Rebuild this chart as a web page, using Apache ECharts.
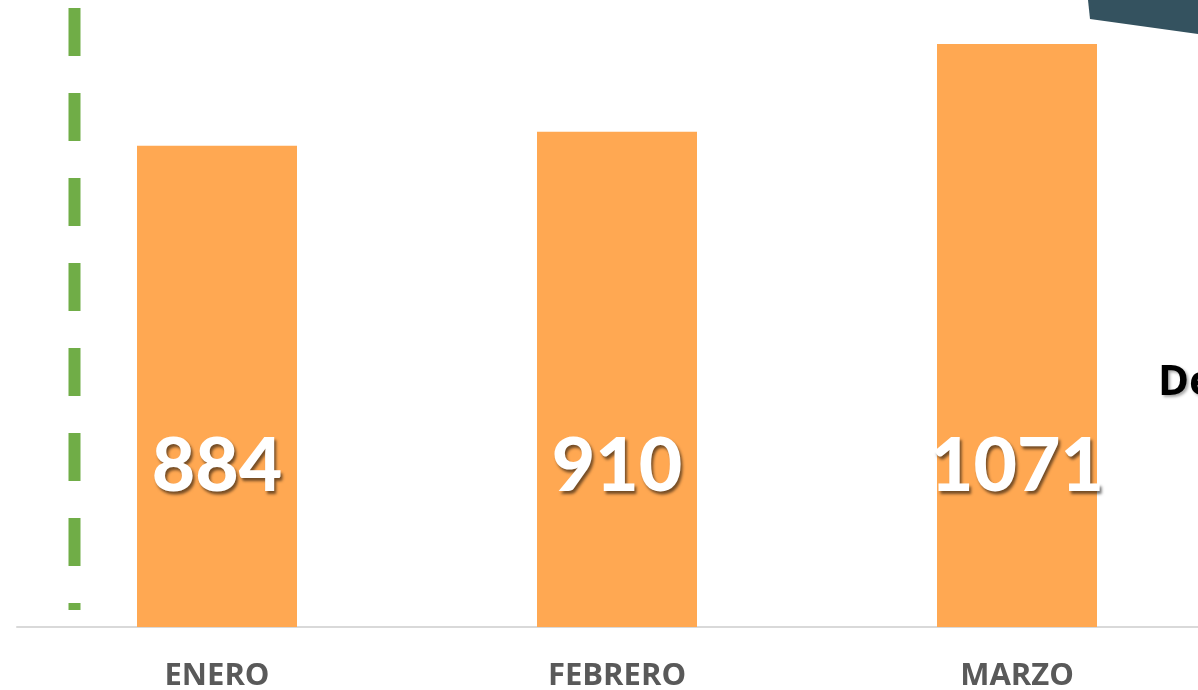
<!DOCTYPE html>
<html><head><meta charset="utf-8">
<style>html,body{margin:0;padding:0;background:#fff;}#c{width:1198px;height:690px;}</style>
<script src="https://cdn.jsdelivr.net/npm/echarts@6/dist/echarts.min.js"></script>
</head><body><div id="c"></div>
<script>
var categories = ['ENERO', 'FEBRERO', 'MARZO'];
var values = [884, 910, 1071];
var sideText = 'De';

var chart = echarts.init(document.getElementById('c'));
chart.setOption({
  animation: false,
  grid: { left: 17, right: -19, top: 1, bottom: 63, outerBoundsMode: 'none', containLabel: false },
  xAxis: {
    type: 'category', data: categories,
    axisLine: { lineStyle: { color: '#d9d9d9', width: 2 } },
    axisTick: { show: false },
    axisLabel: { color: '#595959', fontFamily: 'Open Sans', fontWeight: 'bold', fontSize: 31, margin: 34 }
  },
  yAxis: { type: 'value', min: 0, max: 1150, show: false, splitLine: { show: false } },
  series: [{
    type: 'bar', data: values, barWidth: 160,
    itemStyle: { color: '#ffa852' },
    label: {
      show: true, position: 'insideBottom', distance: 123,
      color: '#fff', fontFamily: 'Lato', fontWeight: 900, fontSize: 75,
      textShadowColor: 'rgba(0,0,0,0.55)', textShadowBlur: 3, textShadowOffsetX: 2, textShadowOffsetY: 3
    }
  }],
  graphic: [
    { type: 'line', shape: { x1: 74.5, y1: 8, x2: 74.5, y2: 610 },
      style: { stroke: '#70ad47', lineWidth: 12, lineDash: [48, 37] } },
    { type: 'polygon', shape: { points: [[1088, 0], [1198, 0], [1198, 34], [1090, 19]] },
      style: { fill: '#34525f' } },
    { type: 'text', left: 1158, top: 362,
      style: { text: sideText, fill: '#000', font: 'bold 42px "Open Sans"',
        textShadowColor: 'rgba(0,0,0,0.35)', textShadowBlur: 3, textShadowOffsetX: 2, textShadowOffsetY: 2 } }
  ]
});
</script></body></html>
